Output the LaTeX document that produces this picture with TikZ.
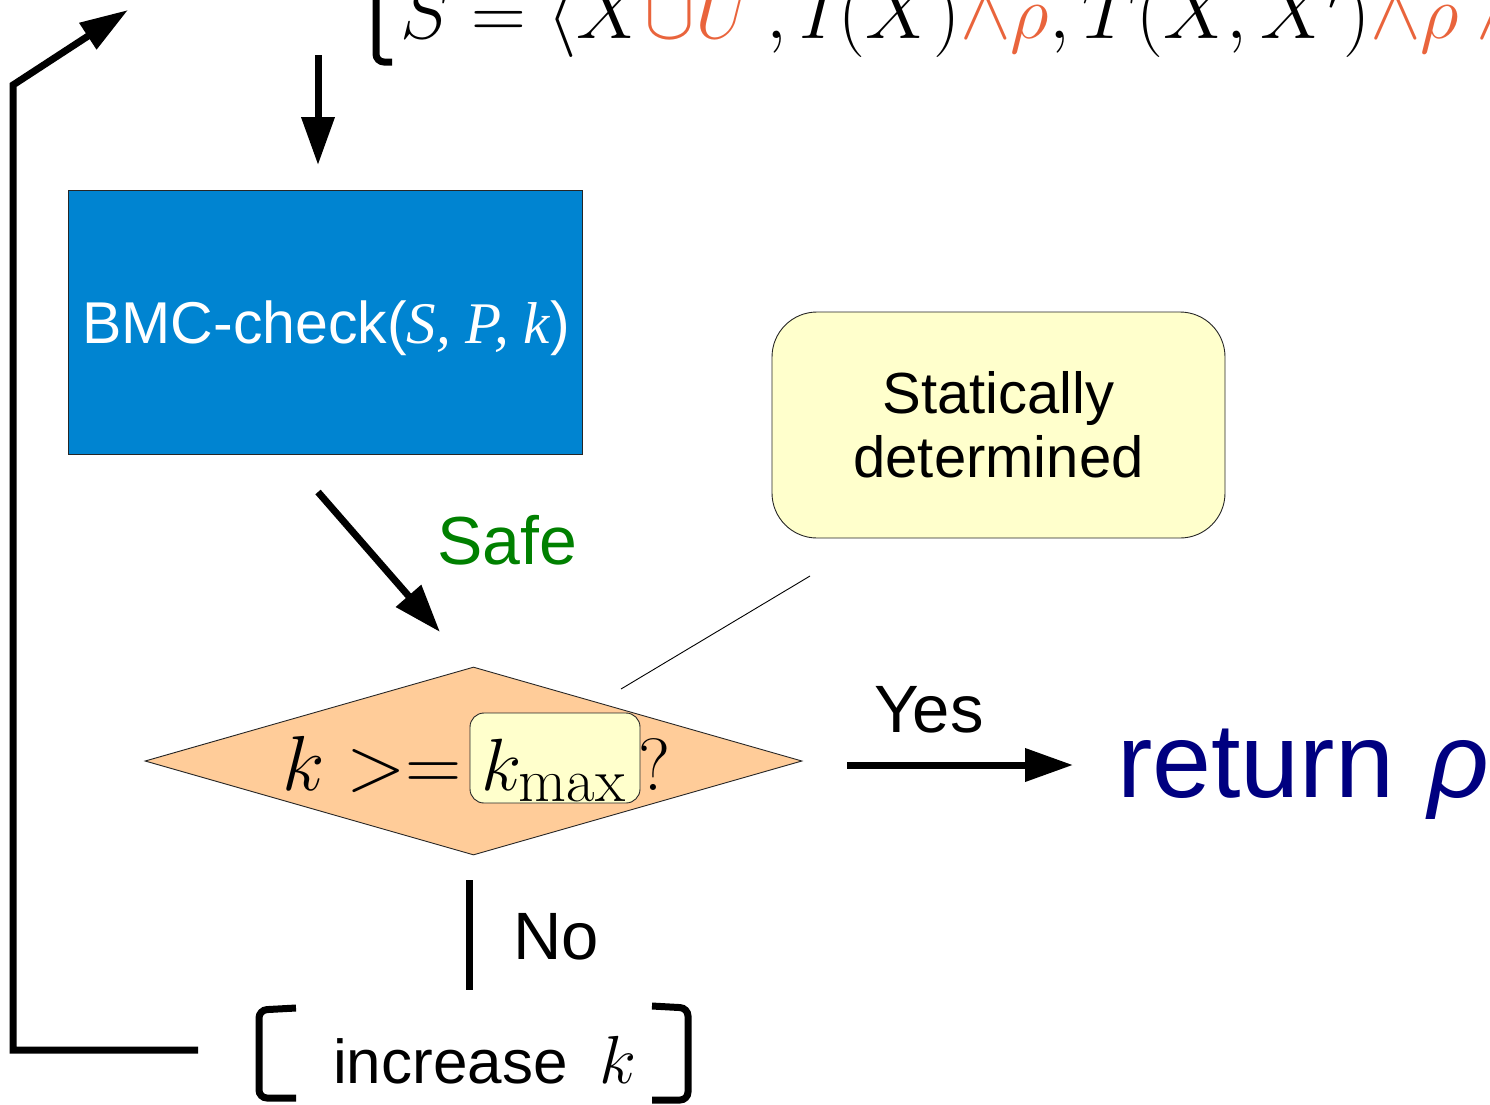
\RequirePackage{fix-cm}
\documentclass[tikz,border=0pt]{standalone}
\usepackage{fontspec}
\usetikzlibrary{arrows.meta,shapes.geometric}
\newfontfamily\arialf{Liberation Sans}
\newfontfamily\timesf{Liberation Serif}
\DeclareMathSizes{74}{74}{62}{44}

\definecolor{bmcblue}{HTML}{0084D1}
\definecolor{notefill}{HTML}{FFFFCC}
\definecolor{peach}{HTML}{FFCC99}
\definecolor{safegreen}{HTML}{008000}
\definecolor{retnavy}{HTML}{000080}
\definecolor{addorange}{HTML}{E9643C}

\tikzset{
  thickline/.style={line width=7pt},
  flowarrow/.style={thickline, -{Triangle[length=48pt,width=32pt]}},
  thinline/.style={line width=0.9pt},
  sanslabel/.style={inner sep=0pt, font=\arialf\fontsize{67}{72}\selectfont},
  mathbig/.style={inner sep=0pt, font=\fontsize{74}{80}\selectfont},
  bmcbox/.style={draw=black!85, thinline, fill=bmcblue, minimum width=514pt,
    minimum height=264pt, inner sep=0pt, text=white},
  notebox/.style={draw=black!85, thinline, fill=notefill, rounded corners=45pt,
    minimum width=453pt, minimum height=226pt, align=center, inner sep=0pt,
    font=\arialf\fontsize{58}{64}\selectfont},
  decision/.style={shape=diamond, draw=black!85, thinline, fill=peach,
    minimum width=657pt, minimum height=188pt, inner sep=0pt, shape aspect=3.5},
  kbox/.style={draw=black!85, thinline, fill=notefill, rounded corners=14pt,
    minimum width=170pt, minimum height=90pt, inner sep=0pt}
}

\begin{document}
\begin{tikzpicture}[x=1pt,y=-1pt]
\useasboundingbox (0,0) rectangle (1490,1104);
\clip (0,0) rectangle (1490,1104);

% system definition at the top
\draw[thickline, rounded corners=8pt] (392,62) -- (376,62) -- (376,-30);
\node[inner sep=0pt, anchor=base west, font=\fontsize{76}{84}\selectfont] (sys) at (400,38)
  {$S = \langle X{\color{addorange}\cup U}\,, I(X){\color{addorange}\wedge\rho}, T(X,X'){\color{addorange}\wedge\rho\wedge{}}$};

% BMC check
\node[bmcbox] (bmc) at (325,322) {};
\node[inner sep=0pt, anchor=base, text=white, font=\arialf\fontsize{59}{64}\selectfont] (bmctext) at (326,343)
  {BMC-check({\timesf\itshape S, P, k})};

% annotation
\node[notebox] (note) at (998.5,425) {Statically\\determined};

% decision
\node[decision] (dec) at (473.5,761) {};
\node[kbox] (kbox) at (555,758) {};
\node[inner sep=0pt, anchor=base east, font=\fontsize{78}{84}\selectfont] (kge) at (462,790) {$k >=$};
\node[mathbig, anchor=base west] (kmax) at (481,790) {$k_{\max}$};
\node[mathbig, anchor=base west] (kq) at (638,790) {$?$};

% labels
\node[sanslabel, anchor=base west, text=safegreen, font=\arialf\fontsize{68}{72}\selectfont] (safe) at (437,564) {Safe};
\node[sanslabel, anchor=base west] (yes) at (874,732) {Yes};
\node[sanslabel, anchor=base west] (no) at (513,959) {No};
\node[inner sep=0pt, anchor=base west, text=retnavy, font=\arialf\fontsize{106}{110}\selectfont] (ret) at (1117,797) {return\hspace{34pt}{\itshape ρ}};

% increase k
\node[inner sep=0pt, anchor=base west, font=\arialf\fontsize{62}{70}\selectfont] (inc) at (333,1083) {increase\hspace{32pt}{\fontsize{68}{70}\selectfont$k$}};
\draw[thickline, rounded corners=8pt] (296,1008) -- (259,1010) -- (259,1098) -- (296,1098);
\draw[thickline, rounded corners=8pt] (652,1006) -- (688,1008) -- (688,1100) -- (652,1100);

% connector end points
\coordinate (inTop) at (318,55);
\coordinate (inBot) at (318,165);
\coordinate (safeA) at (318,492);
\coordinate (safeB) at (440,632);
\coordinate (yesA) at (847,765);
\coordinate (yesB) at (1073,765);
\coordinate (noA) at (469,880);
\coordinate (noB) at (469,990);
\coordinate (noteA) at (810,576);
\coordinate (noteB) at (621,689);
\coordinate (loopA) at (198,1050);
\coordinate (loopB) at (13,1050);
\coordinate (loopC) at (13,85);
\coordinate (loopD) at (128,10);

% connectors
\draw[flowarrow] (inTop) -- (inBot);
\draw[flowarrow] (safeA) -- (safeB);
\draw[flowarrow] (yesA) -- (yesB);
\draw[thickline] (noA) -- (noB);
\draw[thinline] (noteA) -- (noteB);
\draw[thickline, -{Triangle[length=48pt,width=30pt]}] (loopA) -- (loopB) -- (loopC) -- (loopD);
\end{tikzpicture}
\end{document}
